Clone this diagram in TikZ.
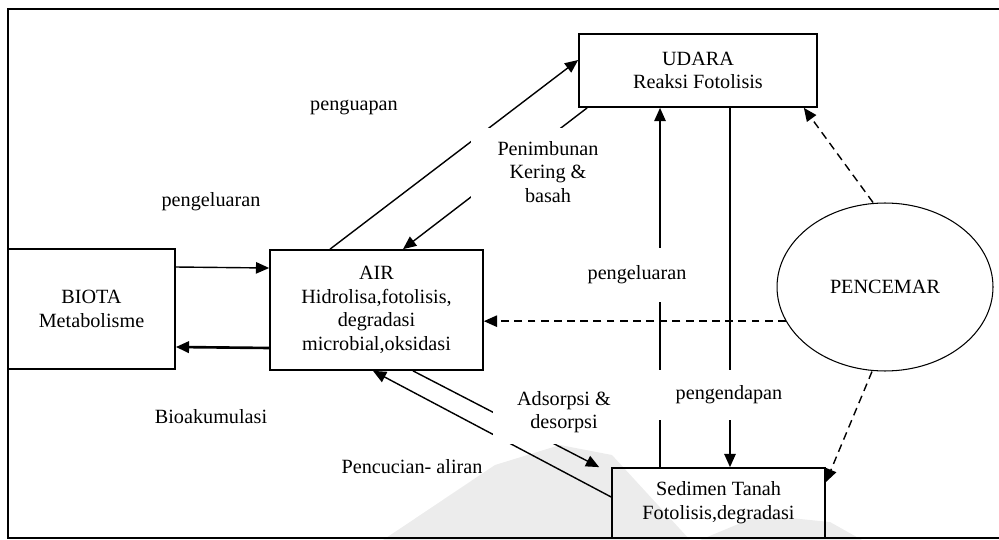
\documentclass[tikz,border=0pt]{standalone}
\usepackage{fontspec}
\setmainfont{Liberation Serif}
\usepackage{xcolor}
\definecolor{wmark}{RGB}{236,236,236}
\usetikzlibrary{arrows.meta,shapes,positioning,calc}

\begin{document}
\begin{tikzpicture}[x=0.02cm,y=-0.02cm,font=\fontsize{11.5}{13.5}\selectfont,
  box/.style={draw,line width=1pt,align=center,inner sep=0pt},
  arr/.style={-{Triangle[length=7.5pt,width=6.5pt]},line width=0.8pt},
  dsh/.style={arr,dash pattern=on 4.5pt off 3pt},
  lbl/.style={fill=white,align=center,inner sep=0pt}]
  \useasboundingbox (0,0) rectangle (999,540);
  % faint watermark behind the picture
  \fill[wmark] (383,540) -- (495,465) -- (560,445) -- (612,455) -- (690,540) -- cycle;
  \fill[wmark] (700,540) -- (760,515) -- (830,522) -- (862,540) -- cycle;
  \draw[line width=1pt] (999,9) -- (8,9) -- (8,538) -- (999,538);
  % compartments
  \node[box,minimum width=3.34cm,minimum height=2.4cm] (biota) at (91.5,309) {BIOTA\\Metabolisme};
  \node[box,minimum width=4.26cm,minimum height=2.4cm] (air) at (376.5,310) {AIR\\Hidrolisa,fotolisis,\\degradasi\\microbial,oksidasi};
  \node[box,minimum width=4.76cm,minimum height=1.46cm] (udara) at (698,70.5) {UDARA\\Reaksi Fotolisis};
  \node[box,minimum width=4.26cm,minimum height=1.4cm] (sed) at (718.5,503) {Sedimen Tanah\\Fotolisis,degradasi};
  \node[draw,ellipse,line width=0.6pt,minimum width=4.32cm,minimum height=3.36cm] (pol) at (885,287) {PENCEMAR};
  % transfers
  \draw[arr] ([yshift=0.84cm]biota.east) -- ([yshift=0.84cm]air.west);
  \draw[arr,line width=1.5pt] ([yshift=-0.76cm]air.west) -- ([yshift=-0.76cm]biota.east);
  \draw[arr] ([xshift=-0.93cm]air.north) -- ([yshift=0.21cm]udara.west);
  \draw[arr] ([xshift=0.18cm]udara.south west) -- ([xshift=0.53cm]air.north);
  \draw[arr] ([xshift=-1.17cm]sed.north) -- ([xshift=-1.17cm]sed.north |- udara.south);
  \draw[arr] ([xshift=0.64cm]udara.south) -- ([xshift=0.64cm]udara.south |- sed.north);
  \draw[arr] ([xshift=0.73cm]air.south) -- ([xshift=-0.24cm]sed.north west);
  \draw[arr] ([yshift=0.12cm]sed.west) -- ([xshift=-0.07cm]air.south);
  \draw[dsh] ([xshift=-0.24cm]pol.north) -- ([xshift=-0.28cm]udara.south east);
  \draw[dsh] (pol.199.65) -- (pol.199.65 -| air.east);
  \draw[dsh] ([xshift=-0.26cm]pol.south) -- ([yshift=-0.3cm]sed.north east);
  % labels
  \node (lguap) at (354,107) {penguapan};
  \node (lkeluar) at (211,202) {pengeluaran};
  \node[lbl,minimum width=3.1cm,minimum height=1.75cm] (ltimbun) at (548,172) {Penimbunan\\Kering \&\\basah};
  \node[lbl,minimum width=2.2cm,minimum height=1.08cm] (lkeluar2) at (637,275) {pengeluaran};
  \node[lbl,minimum width=2.84cm,minimum height=1.3cm] (ladsorp) at (564,412) {Adsorpsi \&\\desorpsi};
  \node[lbl,minimum width=3cm,minimum height=1cm] (lendap) at (729,395) {pengendapan};
  \node (lbio) at (211,417) {Bioakumulasi};
  \node (lcuci) at (412,467) {Pencucian- aliran};
\end{tikzpicture}
\end{document}
